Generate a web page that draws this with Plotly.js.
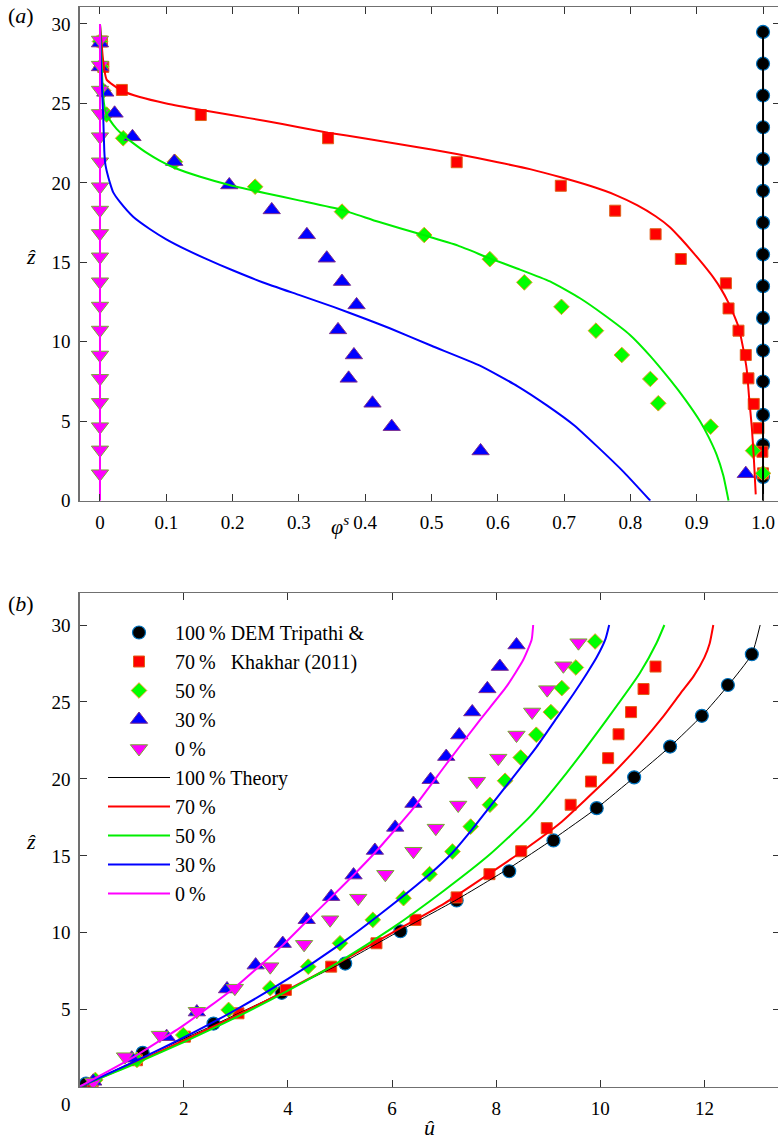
<!DOCTYPE html>
<html>
<head>
<meta charset="utf-8">
<script src="https://cdn.plot.ly/plotly-3.0.1.min.js"></script>
<style>
html,body{margin:0;padding:0;overflow:hidden;background:#fff;}
#chart{width:781px;height:1142px;}
</style>
</head>
<body>
<div id="chart"></div>
<script>
// ---------------- Panel (a): volume fraction profiles ----------------
// DEM data (Tripathi & Khakhar 2011)
const a100_phi = [1,1,1,1,1,1,1,1,1,1,1,1,1,1,1];
const a100_z   = [1.5,3.5,5.4,7.5,9.45,11.5,13.5,15.5,17.5,19.5,21.5,23.5,25.5,27.5,29.5];
const a70_phi  = [1.0,0.999,0.993,0.986,0.978,0.974,0.963,0.948,0.944,0.876,0.838,0.777,0.695,0.538,0.344,0.152,0.033,0.005,0.003];
const a70_z    = [1.72,3.08,4.56,6.09,7.7,9.17,10.7,12.1,13.68,15.21,16.77,18.25,19.82,21.3,22.81,24.27,25.85,27.3,28.9];
const a50_phi  = [1.0,0.985,0.921,0.842,0.83,0.787,0.748,0.696,0.64,0.588,0.489,0.365,0.234,0.113,0.035,0.01,0.005,0.002,0.0];
const a50_z    = [1.72,3.15,4.66,6.13,7.66,9.17,10.7,12.2,13.74,15.2,16.72,18.19,19.76,21.33,22.81,24.3,25.8,27.3,28.9];
const a30_phi  = [0.974,0.574,0.44,0.411,0.375,0.383,0.359,0.387,0.365,0.342,0.312,0.259,0.195,0.112,0.049,0.022,0.008,0.0,0.0];
const a30_z    = [1.7,3.13,4.66,6.13,7.7,9.17,10.75,12.32,13.79,15.26,16.73,18.3,19.87,21.34,22.9,24.38,25.7,27.3,28.8];
const a0_phi   = [0,0,0,0,0,0,0,0,0,0,0,0,0,0,0,0,0,0,0];
const a0_z     = [1.7,3.2,4.66,6.19,7.7,9.17,10.74,12.25,13.78,15.35,16.82,18.29,19.76,21.33,22.91,24.37,25.84,27.41,28.99];
// Theory curves
const t100_phi = [1,1];
const t100_z   = [0,29.7];
const t70_phi  = [0.989,0.988,0.986,0.983,0.979,0.9755,0.97,0.963,0.956,0.948,0.937,0.925,0.91,0.895,0.876,0.86,0.838,0.81,0.777,0.74,0.695,0.65,0.6,0.538,0.5,0.45,0.4,0.344,0.3,0.25,0.2,0.151,0.1,0.06,0.033,0.02,0.01,0.007,0.004,0.002,0.0];
const t70_z    = [0.4,1.2,2.8,4.66,6.5,8.23,9.6,10.95,11.7,12.45,13.3,14.05,14.85,15.6,16.5,17.2,17.9,18.6,19.25,19.8,20.35,20.85,21.3,21.82,22.1,22.45,22.8,23.16,23.5,23.9,24.25,24.6,25.0,25.4,25.8,26.15,26.5,27.0,28.0,29.0,30];
const t50_phi  = [0.948,0.94,0.93,0.918,0.905,0.883,0.86,0.83,0.7994,0.76,0.724,0.6787,0.63,0.588,0.54,0.4877,0.42,0.365,0.3,0.25,0.195,0.15,0.112,0.09,0.07,0.05,0.035,0.025,0.015,0.009,0.006,0.004,0.002,0.0];
const t50_z    = [0,1.6,2.9,4.0,5.0,6.35,7.6,9.1,10.43,11.7,12.74,13.8,14.6,15.25,16.05,16.72,17.55,18.3,18.9,19.35,19.87,20.4,20.95,21.4,21.9,22.5,23.0,23.4,23.95,24.4,25.0,26.0,28.0,30];
const t30_phi  = [0.83,0.79,0.749,0.715,0.674,0.63,0.573,0.5,0.437,0.4,0.352,0.3,0.245,0.2,0.161,0.13,0.1,0.075,0.05,0.03,0.02,0.015,0.011,0.008,0.0065,0.005,0.003,0.001,0.0];
const t30_z    = [0,1.8,3.45,4.75,6.0,7.2,8.5,9.75,10.85,11.45,12.2,12.95,13.75,14.5,15.2,15.8,16.45,17.1,17.87,18.8,19.4,20.0,20.6,21.2,22.0,24.0,26.0,28.0,30];
const t0_phi   = [0,0];
const t0_z     = [0,30];

// ---------------- Panel (b): velocity profiles ----------------
const b100_u = [0.12,1.21,2.57,3.88,5.10,6.16,7.24,8.25,9.10,9.93,10.65,11.34,11.95,12.45,12.91];
const b100_z = [0.2,2.2,4.1,6.1,8.0,10.1,12.1,14.0,16.0,18.1,20.1,22.1,24.1,26.1,28.1];
const b70_u  = [0.25,1.1,2.02,3.05,3.96,4.83,5.7,6.45,7.24,7.87,8.48,8.97,9.43,9.82,10.15,10.35,10.59,10.83,11.06];
const b70_z  = [0.2,1.72,3.25,4.77,6.29,7.8,9.32,10.84,12.3,13.81,15.3,16.8,18.32,19.83,21.35,22.9,24.34,25.84,27.3];
const b50_u  = [0.3,1.1,1.99,2.86,3.66,4.39,5.0,5.63,6.22,6.72,7.16,7.51,7.88,8.17,8.47,8.77,9.05,9.26,9.53,9.90];
const b50_z  = [0.44,1.74,3.36,4.99,6.4,7.8,9.32,10.84,12.25,13.81,15.28,16.9,18.32,19.88,21.39,22.87,24.34,25.9,27.24,28.93];
const b30_u  = [0.26,1.0,1.67,2.25,2.83,3.38,3.9,4.36,4.83,5.26,5.67,6.06,6.41,6.74,7.04,7.29,7.54,7.83,8.07,8.39];
const b30_z  = [0.35,1.85,3.25,4.85,6.35,7.9,9.3,10.85,12.35,13.75,15.35,16.85,18.4,19.95,21.45,22.85,24.35,25.85,27.3,28.7];
const b0_u   = [0.26,0.87,1.54,2.25,2.98,3.66,4.31,4.81,5.35,5.87,6.41,6.84,7.27,7.63,8.04,8.39,8.69,8.98,9.29,9.58];
const b0_z   = [0.3,1.95,3.35,4.9,6.4,7.8,9.25,10.85,12.25,13.8,15.3,16.8,18.3,19.85,21.35,22.85,24.35,25.8,27.35,28.85];
// Theory curves
const bt100_u = [0,1.21,2.57,3.88,5.1,6.16,7.24,8.25,9.1,9.93,10.65,11.34,11.95,12.45,12.91,13.07];
const bt100_z = [0,1.9,4.0,6.1,8.15,10.15,12.15,14.2,16.1,18.1,20.1,22.1,24.1,26.05,28.1,30];
const bt70_u  = [0,1,2,3,4,5,6,7,7.87,8.48,9.23,9.7,10.25,10.75,11.21,11.55,11.79,12.0,12.1,12.17];
const bt70_z  = [0,1.45,3.0,4.6,6.3,8.1,10.0,11.9,13.85,15.25,17.13,18.6,20.38,22.2,24.06,25.6,26.66,27.9,28.8,30];
const bt50_u  = [0,1,2,3,4,5,6,7,7.88,8.65,9.35,10.12,10.76,11.08,11.23];
const bt50_z  = [0,1.4,2.9,4.5,6.25,8.15,10.3,12.75,15.1,17.55,20.38,23.84,26.88,28.83,30];
const bt30_u  = [0,1,2,3,4,5,5.77,6.72,7.16,7.51,7.88,8.3,8.78,9.15,9.48,9.75,9.93,10.1,10.17];
const bt30_z  = [0,1.55,3.2,5.0,7.0,9.25,11.2,13.8,15.2,16.6,18.2,20.0,22.1,23.9,25.5,26.9,27.9,29.1,30];
const bt0_u   = [0,1,2,3,3.9,4.36,4.83,5.26,5.67,6.41,7.05,7.69,8.2,8.52,8.68,8.71];
const bt0_z   = [0,1.85,4.0,6.5,9.2,10.75,12.3,13.75,15.2,18.1,21.0,23.84,26.01,27.74,29.04,30];

// legend labels & ticks
const legendNames = [
  "100\u2009% DEM Tripathi &amp;",
  "70\u2009%\u00A0\u00A0\u00A0Khakhar (2011)",
  "50\u2009%", "30\u2009%", "0\u2009%",
  "100\u2009% Theory", "70\u2009%", "50\u2009%", "30\u2009%", "0\u2009%"
];
const aXTickVals = [0,0.1,0.2,0.3,0.4,0.5,0.6,0.7,0.8,0.9,1.0];
const aXTickText = ["0","0.1","0.2","0.3","0.4","0.5","0.6","0.7","0.8","0.9","1.0"];
const zTickVals  = [0,5,10,15,20,25,30];
const bYTickVals = [5,10,15,20,25,30];
const bXTickVals = [2,4,6,8,10,12];

// ---------------- styles ----------------
const FONT = "Liberation Serif";
const mk = {
  c100: {symbol:"circle", size:13, color:"#000000", line:{color:"#0072BD", width:1.2}},
  c70:  {symbol:"square", size:11, color:"#ff0000", line:{color:"#E0601A", width:1}},
  c50:  {symbol:"diamond", size:12, color:"#00ff00", line:{color:"#E6A020", width:1}},
  c30:  {symbol:"triangle-up", size:15, color:"#0000ff", line:{color:"#7E2F8E", width:1}},
  c0:   {symbol:"triangle-down", size:15, color:"#ff00ff", line:{color:"#77AC30", width:1}}
};
const lc = {c100:"#000000", c70:"#ff0000", c50:"#00ee00", c30:"#0000ff", c0:"#ff00ff"};

function pts(x, y, m, xa, ya, name, show, grp){
  return {x:x, y:y, type:"scatter", mode:"markers", marker:m, xaxis:xa, yaxis:ya,
          name:name, showlegend:show, legendgroup:grp, hoverinfo:"skip"};
}
function ln(x, y, c, w, xa, ya, name, show, grp){
  return {x:x, y:y, type:"scatter", mode:"lines", line:{color:c, width:w, shape:"spline", smoothing:0.5},
          xaxis:xa, yaxis:ya, name:name, showlegend:show, legendgroup:grp, hoverinfo:"skip"};
}

const traces = [
  // panel (a)
  pts(a100_phi, a100_z, mk.c100, "x", "y", "a1", false, "a1"),
  pts(a70_phi, a70_z, mk.c70, "x", "y", "a2", false, "a2"),
  pts(a50_phi, a50_z, mk.c50, "x", "y", "a3", false, "a3"),
  pts(a30_phi, a30_z, mk.c30, "x", "y", "a4", false, "a4"),
  pts(a0_phi, a0_z, mk.c0, "x", "y", "a5", false, "a5"),
  ln(t100_phi, t100_z, lc.c100, 2, "x", "y", "a6", false, "a6"),
  ln(t70_phi, t70_z, lc.c70, 2, "x", "y", "a7", false, "a7"),
  ln(t50_phi, t50_z, lc.c50, 2, "x", "y", "a8", false, "a8"),
  ln(t30_phi, t30_z, lc.c30, 2, "x", "y", "a9", false, "a9"),
  ln(t0_phi, t0_z, lc.c0, 2, "x", "y", "a10", false, "a10"),
  // panel (b)
  pts(b100_u, b100_z, mk.c100, "x2", "y2", legendNames[0], true, "g1"),
  pts(b70_u, b70_z, mk.c70, "x2", "y2", legendNames[1], true, "g2"),
  pts(b50_u, b50_z, mk.c50, "x2", "y2", legendNames[2], true, "g3"),
  pts(b30_u, b30_z, mk.c30, "x2", "y2", legendNames[3], true, "g4"),
  pts(b0_u, b0_z, mk.c0, "x2", "y2", legendNames[4], true, "g5"),
  ln(bt100_u, bt100_z, lc.c100, 1, "x2", "y2", legendNames[5], true, "g6"),
  ln(bt70_u, bt70_z, lc.c70, 2, "x2", "y2", legendNames[6], true, "g7"),
  ln(bt50_u, bt50_z, lc.c50, 2, "x2", "y2", legendNames[7], true, "g8"),
  ln(bt30_u, bt30_z, lc.c30, 2, "x2", "y2", legendNames[8], true, "g9"),
  ln(bt0_u, bt0_z, lc.c0, 2, "x2", "y2", legendNames[9], true, "g10")
];

const W = 781, H = 1142;
const px = v => v / W;
const py = v => (H - v) / H;

const axBase = {
  showline:true, mirror:"ticks", linecolor:"#707070", linewidth:1.5,
  ticks:"inside", ticklen:7, tickwidth:1, tickcolor:"#333333",
  showgrid:false, zeroline:false, tickfont:{family:FONT, size:19, color:"#000"},
  ticklabelstandoff:4, fixedrange:true
};

const layout = {
  width:W, height:H, margin:{l:0, r:0, t:0, b:0},
  paper_bgcolor:"#fff", plot_bgcolor:"#fff",
  font:{family:FONT, color:"#000", size:19},
  xaxis: Object.assign({}, axBase, {domain:[px(79.7), px(780)], range:[-0.0306, 1.0256],
          tickvals:aXTickVals, ticktext:aXTickText, anchor:"y"}),
  yaxis: Object.assign({}, axBase, {domain:[py(500.7), py(7.3)], range:[0, 31.05],
          tickvals:zTickVals, anchor:"x"}),
  xaxis2: Object.assign({}, axBase, {domain:[px(79.7), px(780)], range:[0, 13.451],
          tickvals:bXTickVals, anchor:"y2"}),
  yaxis2: Object.assign({}, axBase, {domain:[py(1086.7), py(593.3)], range:[0, 32.06],
          tickvals:bYTickVals, anchor:"x2"}),
  showlegend:true,
  legend:{x:px(103), y:py(613), xanchor:"left", yanchor:"top", bgcolor:"rgba(0,0,0,0)",
          borderwidth:0, font:{family:FONT, size:20, color:"#000"}, itemwidth:62,
          traceorder:"normal", itemclick:false, itemdoubleclick:false},
  annotations:[
    {text:"(<i>a</i>)", x:px(21), y:py(15), xref:"paper", yref:"paper", showarrow:false,
     font:{family:FONT, size:22}, xanchor:"center", yanchor:"middle"},
    {text:"(<i>b</i>)", x:px(21), y:py(603), xref:"paper", yref:"paper", showarrow:false,
     font:{family:FONT, size:22}, xanchor:"center", yanchor:"middle"},
    {text:"<i>ẑ</i>", x:px(31), y:py(256), xref:"paper", yref:"paper", showarrow:false,
     font:{family:FONT, size:22}, xanchor:"center", yanchor:"middle"},
    {text:"<i>ẑ</i>", x:px(31), y:py(841), xref:"paper", yref:"paper", showarrow:false,
     font:{family:FONT, size:22}, xanchor:"center", yanchor:"middle"},
    {text:"<i>φ</i><sup><i>s</i></sup>", x:px(340), y:py(525), xref:"paper", yref:"paper", showarrow:false,
     font:{family:FONT, size:22}, xanchor:"center", yanchor:"middle"},
    {text:"<i>û</i>", x:px(430), y:py(1127), xref:"paper", yref:"paper", showarrow:false,
     font:{family:FONT, size:22}, xanchor:"center", yanchor:"middle"},
    {text:"0", x:px(66), y:py(1104), xref:"paper", yref:"paper", showarrow:false,
     font:{family:FONT, size:19}, xanchor:"center", yanchor:"middle"}
  ]
};

Plotly.newPlot("chart", traces, layout, {staticPlot:true, displayModeBar:false});
</script>
</body>
</html>
